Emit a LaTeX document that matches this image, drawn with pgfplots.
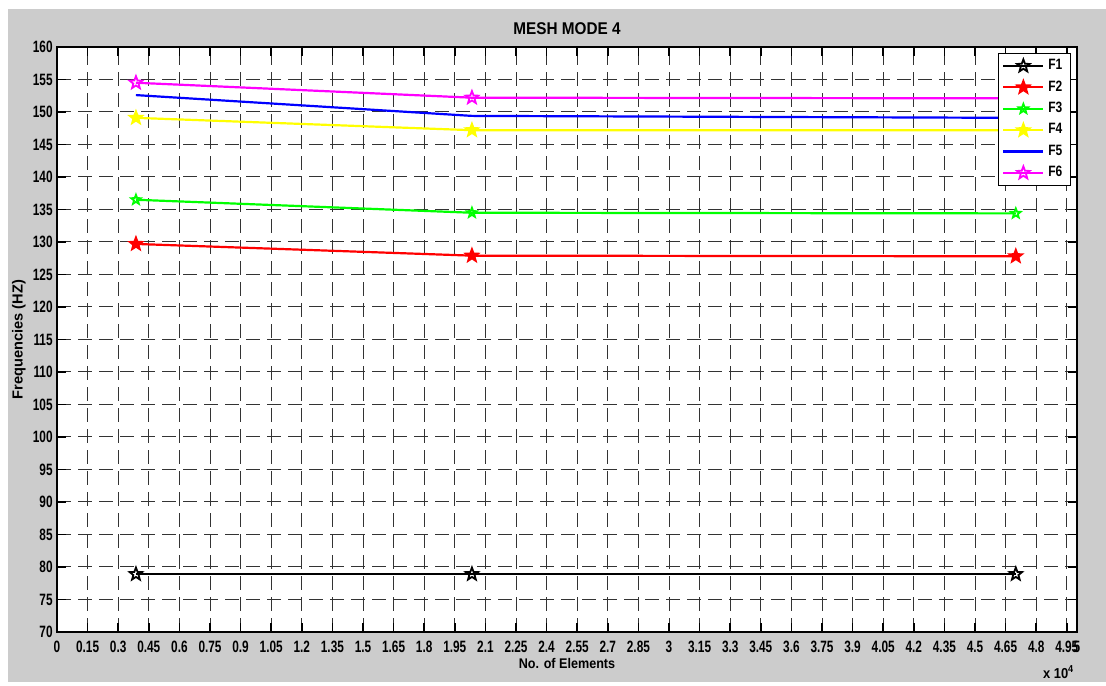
\documentclass[border=0pt]{standalone}
\usepackage{fontspec}
\setmainfont{Liberation Sans}
\newfontfamily\tickfont[FakeStretch=0.72]{Liberation Sans}
\newfontfamily\titlefont[FakeStretch=0.9]{Liberation Sans}
\newfontfamily\legfont[FakeStretch=0.8]{Liberation Sans}
\usepackage{pgfplots}
\pgfplotsset{compat=1.18}
\definecolor{bggray}{RGB}{204,204,204}
\definecolor{mgreen}{RGB}{0,255,0}
\definecolor{myellow}{RGB}{255,255,0}
\definecolor{mmagenta}{RGB}{255,0,255}

\pgfdeclareplotmark{pentagram}{%
  \pgfpathmoveto{\pgfpointpolar{90}{\pgfplotmarksize}}%
  \pgfpathlineto{\pgfpointpolar{126}{0.42\pgfplotmarksize}}%
  \pgfpathlineto{\pgfpointpolar{162}{\pgfplotmarksize}}%
  \pgfpathlineto{\pgfpointpolar{198}{0.42\pgfplotmarksize}}%
  \pgfpathlineto{\pgfpointpolar{234}{\pgfplotmarksize}}%
  \pgfpathlineto{\pgfpointpolar{270}{0.42\pgfplotmarksize}}%
  \pgfpathlineto{\pgfpointpolar{306}{\pgfplotmarksize}}%
  \pgfpathlineto{\pgfpointpolar{342}{0.42\pgfplotmarksize}}%
  \pgfpathlineto{\pgfpointpolar{18}{\pgfplotmarksize}}%
  \pgfpathlineto{\pgfpointpolar{54}{0.42\pgfplotmarksize}}%
  \pgfpathclose\pgfusepathqfillstroke}
\pgfdeclareplotmark{pentagramo}{%
  \pgfpathmoveto{\pgfpointpolar{90}{\pgfplotmarksize}}%
  \pgfpathlineto{\pgfpointpolar{126}{0.42\pgfplotmarksize}}%
  \pgfpathlineto{\pgfpointpolar{162}{\pgfplotmarksize}}%
  \pgfpathlineto{\pgfpointpolar{198}{0.42\pgfplotmarksize}}%
  \pgfpathlineto{\pgfpointpolar{234}{\pgfplotmarksize}}%
  \pgfpathlineto{\pgfpointpolar{270}{0.42\pgfplotmarksize}}%
  \pgfpathlineto{\pgfpointpolar{306}{\pgfplotmarksize}}%
  \pgfpathlineto{\pgfpointpolar{342}{0.42\pgfplotmarksize}}%
  \pgfpathlineto{\pgfpointpolar{18}{\pgfplotmarksize}}%
  \pgfpathlineto{\pgfpointpolar{54}{0.42\pgfplotmarksize}}%
  \pgfpathclose\pgfusepathqstroke}

\begin{document}
\begin{tikzpicture}
\fill[white] (0,0) rectangle (553pt,341pt);
\fill[bggray] (4pt,0) rectangle (553pt,336.5pt);
\begin{axis}[
  scale only axis,
  width=510pt, height=292.5pt,
  at={(28.5pt,25pt)}, anchor=south west,
  xmin=0, xmax=5, ymin=70, ymax=160,
  clip mode=individual,
  axis background/.style={fill=white},
  axis line style={line width=1pt, black},
  xtick={0,0.15,0.3,0.45,0.6,0.75,0.9,1.05,1.2,1.35,1.5,1.65,1.8,1.95,2.1,2.25,2.4,2.55,2.7,2.85,3,3.15,3.3,3.45,3.6,3.75,3.9,4.05,4.2,4.35,4.5,4.65,4.8,4.95,5},
  xticklabels={0,0.15,0.3,0.45,0.6,0.75,0.9,1.05,1.2,1.35,1.5,1.65,1.8,1.95,2.1,2.25,2.4,2.55,2.7,2.85,3,3.15,3.3,3.45,3.6,3.75,3.9,4.05,4.2,4.35,4.5,4.65,4.8,4.95,5},
  ytick={70,75,80,85,90,95,100,105,110,115,120,125,130,135,140,145,150,155,160},
  /pgf/number format/assume math mode=true,
  tick label style={font=\tickfont\bfseries\fontsize{8.2pt}{9pt}\selectfont, black},
  xticklabel style={anchor=base, yshift=-10pt, inner sep=0pt},
  yticklabel style={anchor=east, inner sep=0pt, xshift=-2pt},
  major tick length=4.5pt,
  tick style={line width=0.8pt, black},
  grid=major,
  major grid style={line width=0.5pt, black!80, dash pattern=on 7pt off 3.5pt},
  xlabel={No. of Elements},
  xlabel style={font=\titlefont\bfseries\fontsize{7pt}{8pt}\selectfont, at={(axis description cs:0.5,-0.0632)}, anchor=base},
  ylabel={Frequencies (HZ)},
  ylabel style={font=\bfseries\fontsize{7.3pt}{8pt}\selectfont, at={(axis description cs:-0.0338,0.5)}, anchor=base, rotate=0},
  legend style={at={(rel axis cs:0.994,0.990)}, anchor=north east, draw=black, line width=0.5pt, fill=white,
    font=\legfont\bfseries\fontsize{7.5pt}{8pt}\selectfont, row sep=0pt, inner xsep=2pt, inner ysep=1pt},
  legend cell align=left,
  legend image code/.code={\draw[mark repeat=2,mark phase=2] plot coordinates {(0cm,0cm) (0.35cm,0cm) (0.7cm,0cm)};},
  every axis plot/.append style={line width=1.1pt, mark size=3.3pt, mark options={solid, line width=0.9pt}},
]
\addplot[black, mark=pentagramo] coordinates {(0.387,78.9) (2.034,78.9) (4.70,78.9)};
\addlegendentry{F1}
\addplot[red, mark=pentagram] coordinates {(0.387,129.7) (2.034,127.9) (4.70,127.8)};
\addlegendentry{F2}
\addplot[mgreen, mark=pentagramo, mark size=2.5pt] coordinates {(0.387,136.5) (2.034,134.5) (4.70,134.4)};
\addlegendentry{F3}
\addplot[myellow, mark=pentagram] coordinates {(0.387,149.1) (2.034,147.2) (4.70,147.2)};
\addlegendentry{F4}
\addplot[blue, mark=none] coordinates {(0.387,152.6) (2.034,149.4) (4.70,149.1)};
\addlegendentry{F5}
\addplot[mmagenta, mark=pentagramo] coordinates {(0.387,154.5) (2.034,152.2) (4.70,152.1)};
\addlegendentry{F6}
\node[font=\titlefont\bfseries\fontsize{8.5pt}{10pt}\selectfont, anchor=base] at (axis description cs:0.5,1.0222) {MESH MODE 4};
\node[font=\titlefont\bfseries\fontsize{7.2pt}{8pt}\selectfont, anchor=base] at (axis description cs:0.982,-0.080) {x 10\textsuperscript{4}};
\end{axis}
\end{tikzpicture}
\end{document}
